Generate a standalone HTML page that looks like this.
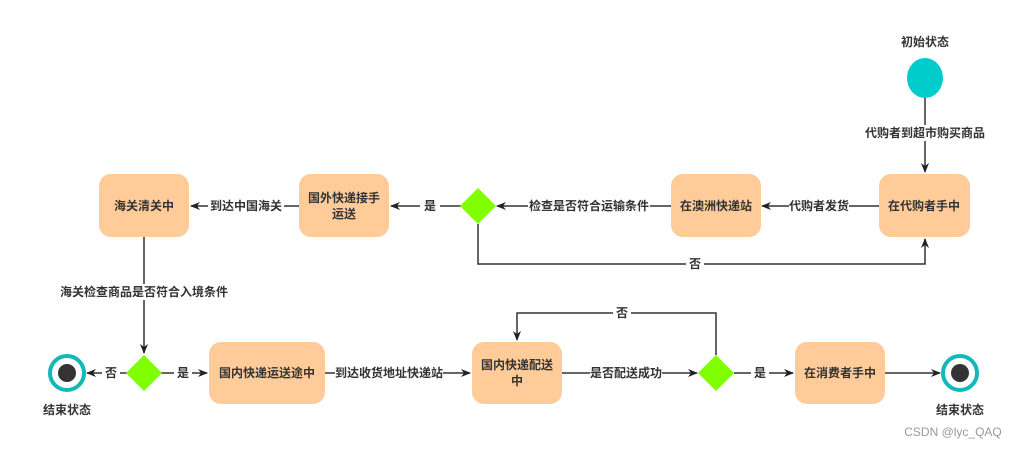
<!DOCTYPE html>
<html><head><meta charset="utf-8"><style>
html,body{margin:0;padding:0;background:#fff}
svg{display:block}
text{font-family:"Liberation Sans","Noto Sans CJK SC",sans-serif;font-size:12px;font-weight:bold;fill:#333;text-anchor:middle;dominant-baseline:central}
.bg{fill:#fff;stroke:none}
</style></head><body>
<svg width="1026" height="449" viewBox="0 0 1026 449">
<defs><marker id="a" markerWidth="10" markerHeight="8" refX="9" refY="4" orient="auto" markerUnits="userSpaceOnUse"><path d="M0,0 L10,4 L0,8 L3,4 Z" fill="#222"/></marker></defs>
<g stroke="#333" stroke-width="1.5" fill="none">
<line x1="925" y1="98" x2="925" y2="172" marker-end="url(#a)"/>
<line x1="879" y1="206" x2="762" y2="206" marker-end="url(#a)"/>
<line x1="671" y1="206" x2="497" y2="206" marker-end="url(#a)"/>
<line x1="461" y1="206" x2="391" y2="206" marker-end="url(#a)"/>
<line x1="299" y1="206" x2="191" y2="206" marker-end="url(#a)"/>
<polyline points="478,224 478,264 925,264 925,239" marker-end="url(#a)"/>
<line x1="144" y1="237" x2="144" y2="353" marker-end="url(#a)"/>
<line x1="127" y1="373" x2="87" y2="373" marker-end="url(#a)"/>
<line x1="161" y1="373" x2="207" y2="373" marker-end="url(#a)"/>
<line x1="325" y1="373" x2="470" y2="373" marker-end="url(#a)"/>
<line x1="562" y1="373" x2="697" y2="373" marker-end="url(#a)"/>
<polyline points="716,355 716,313 517,313 517,340" marker-end="url(#a)"/>
<line x1="734" y1="373" x2="793" y2="373" marker-end="url(#a)"/>
<line x1="885" y1="373" x2="940" y2="373" marker-end="url(#a)"/>
</g>
<g fill="#ffcc99">
<rect x="99" y="174" width="90" height="63" rx="12"/>
<rect x="299" y="174" width="90" height="63" rx="12"/>
<rect x="671" y="174" width="90" height="63" rx="12"/>
<rect x="879" y="174" width="91" height="63" rx="12"/>
<rect x="209" y="342" width="116" height="62" rx="12"/>
<rect x="472" y="342" width="90" height="62" rx="12"/>
<rect x="795" y="342" width="90" height="62" rx="12"/>
</g>
<g fill="#80ff00">
<polygon points="478,188 496,206 478,224 460,206"/>
<polygon points="144,355 162,373 144,391 126,373"/>
<polygon points="716,355 734,373 716,391 698,373"/>
</g>
<ellipse cx="925" cy="78" rx="18" ry="20" fill="#00cccc"/>
<circle cx="67" cy="373" r="17" fill="#fff" stroke="#14b8b8" stroke-width="4"/><circle cx="67" cy="373" r="9" fill="#333"/>
<circle cx="960" cy="373" r="17" fill="#fff" stroke="#14b8b8" stroke-width="4"/><circle cx="960" cy="373" r="9" fill="#333"/>
<g>
<rect class="bg" x="864" y="125" width="122" height="16"/>
<rect class="bg" x="789" y="198" width="60" height="16"/>
<rect class="bg" x="528" y="198" width="122" height="16"/>
<rect class="bg" x="420" y="198" width="20" height="16"/>
<rect class="bg" x="208" y="198" width="76" height="16"/>
<rect class="bg" x="686" y="256" width="18" height="16"/>
<rect class="bg" x="60" y="284" width="168" height="16"/>
<rect class="bg" x="102" y="365" width="18" height="16"/>
<rect class="bg" x="174" y="365" width="18" height="16"/>
<rect class="bg" x="335" y="365" width="108" height="16"/>
<rect class="bg" x="590" y="365" width="72" height="16"/>
<rect class="bg" x="613" y="305" width="18" height="16"/>
<rect class="bg" x="751" y="365" width="18" height="16"/>
</g>
<text x="925" y="42">初始状态</text>
<text x="925" y="133">代购者到超市购买商品</text>
<text x="924" y="206">在代购者手中</text>
<text x="819" y="206">代购者发货</text>
<text x="716" y="206">在澳洲快递站</text>
<text x="589" y="206">检查是否符合运输条件</text>
<text x="430" y="206">是</text>
<text x="344" y="198">国外快递接手</text>
<text x="344" y="214">运送</text>
<text x="246" y="206">到达中国海关</text>
<text x="144" y="206">海关清关中</text>
<text x="695" y="264">否</text>
<text x="144" y="292">海关检查商品是否符合入境条件</text>
<text x="111" y="373">否</text>
<text x="183" y="373">是</text>
<text x="267" y="373">国内快递运送途中</text>
<text x="389" y="373">到达收货地址快递站</text>
<text x="517" y="365">国内快递配送</text>
<text x="517" y="381">中</text>
<text x="626" y="373">是否配送成功</text>
<text x="622" y="313">否</text>
<text x="760" y="373">是</text>
<text x="840" y="373">在消费者手中</text>
<text x="67" y="410">结束状态</text>
<text x="960" y="410">结束状态</text>
<text x="953" y="432" style="font-weight:normal;fill:#999">CSDN @lyc_QAQ</text>
</svg>
</body></html>
